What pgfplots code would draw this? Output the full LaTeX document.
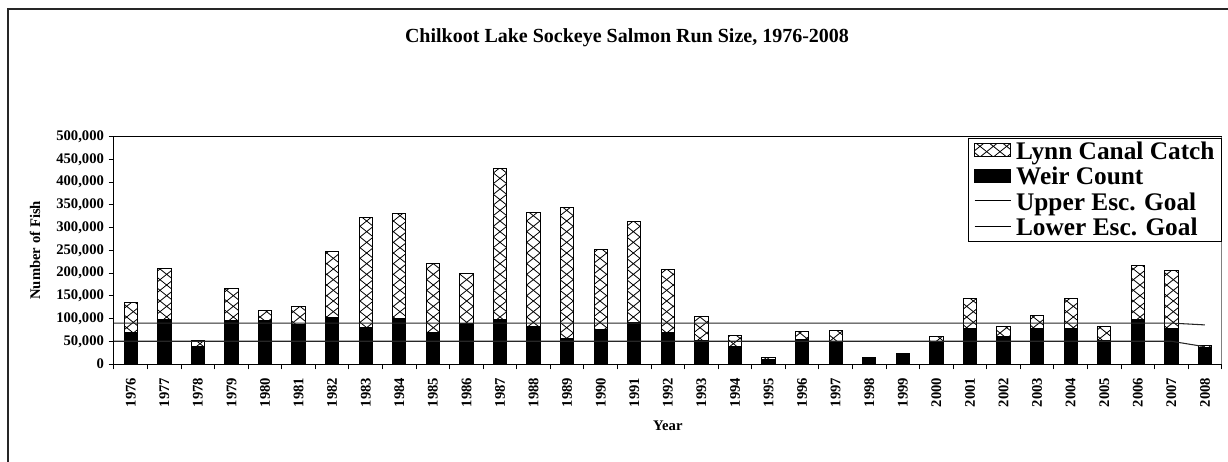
\documentclass[border=0pt]{standalone}
\usepackage{fontspec}
\setmainfont{Liberation Serif}
\usepackage{pgfplots}
\pgfplotsset{compat=1.18}
\usepackage{pgfplotstable}
\usetikzlibrary{patterns}

\pgfdeclarepatternformonly{bigx}{\pgfqpoint{-0.5pt}{-0.5pt}}{\pgfqpoint{10.5pt}{8.5pt}}{\pgfqpoint{10pt}{8pt}}{%
  \pgfsetlinewidth{0.6pt}%
  \pgfpathmoveto{\pgfqpoint{0pt}{0pt}}\pgfpathlineto{\pgfqpoint{10pt}{8pt}}%
  \pgfpathmoveto{\pgfqpoint{0pt}{8pt}}\pgfpathlineto{\pgfqpoint{10pt}{0pt}}%
  \pgfusepath{stroke}}

\pgfplotstableread{
x weir total
0 70000 136000
1 98000 210000
2 38000 51000
3 96000 166000
4 96000 118000
5 86000 127000
6 102000 247000
7 81000 323000
8 100000 331000
9 70000 221000
10 89000 199000
11 97000 429000
12 82000 334000
13 57000 345000
14 75000 252000
15 91000 314000
16 69000 207000
17 51000 104000
18 38000 62000
19 10000 15000
20 53000 71000
21 47000 73000
22 15000 15000
23 20000 23000
24 48000 60000
25 77000 143000
26 60000 82000
27 77000 107000
28 77000 143000
29 51000 82000
30 97000 216000
31 79000 205000
32 36000 40000
}\runtable

\begin{document}
\begin{tikzpicture}
\useasboundingbox (0pt,0pt) rectangle (921pt,-345.75pt);
\draw[line width=1.2pt, black!85] (6pt,-400pt) -- (6pt,-6.75pt) -- (1000pt,-6.75pt);
\node[font=\bfseries\fontsize{15}{17}\selectfont] at (470.25pt,-28.1pt) {Chilkoot Lake Sockeye Salmon Run Size, 1976-2008};
\begin{axis}[
  at={(85.5pt,-273pt)}, anchor=south west,
  scale only axis, width=830.8pt, height=170.5pt,
  xmin=-0.5, xmax=32.5, ymin=0, ymax=500000,
  axis x line*=bottom, axis y line*=left,
  axis line style={black, line width=0.75pt},
  tick align=outside,
  xtick={0,...,32},
  xticklabels={1976,1977,1978,1979,1980,1981,1982,1983,1984,1985,1986,1987,1988,1989,1990,1991,1992,1993,1994,1995,1996,1997,1998,1999,2000,2001,2002,2003,2004,2005,2006,2007,2008},
  major x tick style={draw=none},
  minor xtick={-0.5,0.5,...,32.5},
  minor tick length=4pt,
  minor x tick style={black, line width=0.75pt},
  xticklabel style={rotate=90, anchor=west, font=\bfseries\fontsize{11}{12}\selectfont},
  xticklabel shift=32pt,
  ytick={0,50000,100000,150000,200000,250000,300000,350000,400000,450000,500000},
  yticklabels={0,{50,000},{100,000},{150,000},{200,000},{250,000},{300,000},{350,000},{400,000},{450,000},{500,000}},
  major tick length=4pt,
  major y tick style={black, line width=0.75pt},
  scaled y ticks=false,
  yticklabel style={font=\bfseries\fontsize{11}{12}\selectfont},
  xlabel={Year},
  xlabel style={at={(axis description cs:0.5,-0.273)}, anchor=center, font=\bfseries\fontsize{11}{12}\selectfont},
  ylabel={Number of Fish},
  ylabel style={at={(axis description cs:-0.0713,0.5)}, anchor=center, font=\bfseries\fontsize{11}{12}\selectfont},
  legend cell align=left,
  legend style={at={(rel axis cs:1,0.995)}, anchor=north east, draw=black, line width=0.75pt,
    font=\bfseries\fontsize{19}{21}\selectfont, inner xsep=4pt, inner ysep=1.5pt, row sep=2.5pt,
    nodes={inner sep=1pt}},
  clip=false,
]
\addplot[ybar, bar width=10pt, bar shift=0pt, draw=black, line width=0.75pt, pattern=bigx, forget plot] table[x=x, y=total] {\runtable};
\addplot[ybar, bar width=10pt, bar shift=0pt, draw=black, line width=0.75pt, fill=black, forget plot] table[x=x, y=weir] {\runtable};
\addplot[black!85, line width=0.8pt, forget plot] coordinates {(-0.5,90000) (31,90000) (32,86000)};
\addplot[black!85, line width=0.8pt, forget plot] coordinates {(-0.5,50000) (31,50000) (32,38000)};
\draw[black, line width=0.75pt] (rel axis cs:0,1) -- (rel axis cs:1,1);
\draw[gray, line width=0.75pt] (rel axis cs:1,0) -- (rel axis cs:1,1);
\addlegendimage{legend image code/.code={\path[draw=none,fill=none] (0pt,0pt) -- (30pt,0pt); \draw[pattern=bigx, draw=black, line width=0.5pt] (0pt,-4pt) rectangle (27pt,6pt);}}
\addlegendentry{\bfseries Lynn Canal Catch}
\addlegendimage{legend image code/.code={\path[draw=none,fill=none] (0pt,0pt) -- (30pt,0pt); \fill[black] (0pt,-4pt) rectangle (27pt,6pt);}}
\addlegendentry{\bfseries Weir Count}
\addlegendimage{legend image code/.code={\path[draw=none,fill=none] (0pt,0pt) -- (30pt,0pt); \draw[black, line width=0.75pt] (0pt,1.5pt) -- (27pt,1.5pt);}}
\addlegendentry{\bfseries Upper Esc. Goal}
\addlegendimage{legend image code/.code={\path[draw=none,fill=none] (0pt,0pt) -- (30pt,0pt); \draw[black, line width=0.75pt] (0pt,1.5pt) -- (27pt,1.5pt);}}
\addlegendentry{\bfseries Lower Esc. Goal}
\end{axis}
\end{tikzpicture}
\end{document}
